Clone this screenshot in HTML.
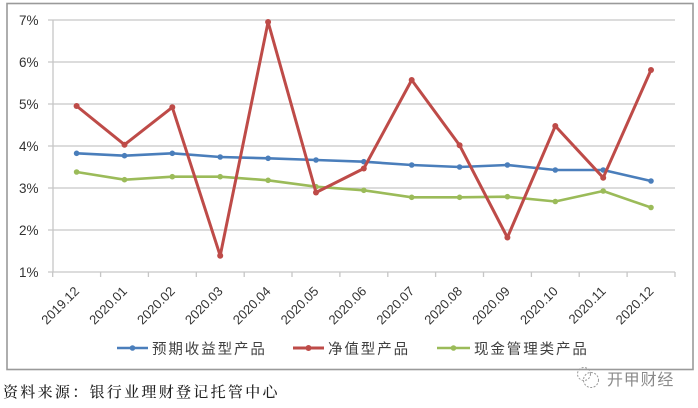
<!DOCTYPE html>
<html><head><meta charset="utf-8"><style>
html,body{margin:0;padding:0;background:#fff;}
svg{display:block;}
</style></head><body>
<svg width="698" height="408" viewBox="0 0 698 408" xmlns="http://www.w3.org/2000/svg">
<rect x="0" y="0" width="698" height="408" fill="#fff"/>
<rect x="7" y="3.5" width="686" height="366" fill="#fff" stroke="#9a9a9a" stroke-width="1.6"/>
<g stroke="#c6c6c6" stroke-width="1.3">
<line x1="48" y1="20" x2="675" y2="20"/>
<line x1="48" y1="62" x2="675" y2="62"/>
<line x1="48" y1="104" x2="675" y2="104"/>
<line x1="48" y1="146" x2="675" y2="146"/>
<line x1="48" y1="188" x2="675" y2="188"/>
<line x1="48" y1="230" x2="675" y2="230"/>
<line x1="48" y1="272" x2="675" y2="272"/>
<line x1="53" y1="20" x2="53" y2="272"/>
<line x1="52.7" y1="272" x2="52.7" y2="277"/>
<line x1="100.6" y1="272" x2="100.6" y2="277"/>
<line x1="148.4" y1="272" x2="148.4" y2="277"/>
<line x1="196.3" y1="272" x2="196.3" y2="277"/>
<line x1="244.2" y1="272" x2="244.2" y2="277"/>
<line x1="292" y1="272" x2="292" y2="277"/>
<line x1="339.9" y1="272" x2="339.9" y2="277"/>
<line x1="387.8" y1="272" x2="387.8" y2="277"/>
<line x1="435.6" y1="272" x2="435.6" y2="277"/>
<line x1="483.5" y1="272" x2="483.5" y2="277"/>
<line x1="531.4" y1="272" x2="531.4" y2="277"/>
<line x1="579.2" y1="272" x2="579.2" y2="277"/>
<line x1="627.1" y1="272" x2="627.1" y2="277"/>
<line x1="675" y1="272" x2="675" y2="277"/>
</g>
<g font-family="Liberation Sans, sans-serif" font-size="13.5" fill="#333" text-anchor="end">
<text x="38.5" y="25">7%</text>
<text x="38.5" y="67">6%</text>
<text x="38.5" y="109">5%</text>
<text x="38.5" y="151">4%</text>
<text x="38.5" y="193">3%</text>
<text x="38.5" y="235">2%</text>
<text x="38.5" y="277">1%</text>
</g>
<g font-family="Liberation Sans, sans-serif" font-size="13" fill="#333" text-anchor="end">
<text transform="translate(80,292) rotate(-45)">2019.12</text>
<text transform="translate(127.9,292) rotate(-45)">2020.01</text>
<text transform="translate(175.7,292) rotate(-45)">2020.02</text>
<text transform="translate(223.6,292) rotate(-45)">2020.03</text>
<text transform="translate(271.5,292) rotate(-45)">2020.04</text>
<text transform="translate(319.4,292) rotate(-45)">2020.05</text>
<text transform="translate(367.2,292) rotate(-45)">2020.06</text>
<text transform="translate(415.1,292) rotate(-45)">2020.07</text>
<text transform="translate(463,292) rotate(-45)">2020.08</text>
<text transform="translate(510.8,292) rotate(-45)">2020.09</text>
<text transform="translate(558.7,292) rotate(-45)">2020.10</text>
<text transform="translate(606.6,292) rotate(-45)">2020.11</text>
<text transform="translate(654.4,292) rotate(-45)">2020.12</text>
</g>
<!-- blue -->
<g stroke="#4a7ebb" fill="#4a7ebb">
<polyline fill="none" stroke-width="2.6" stroke-linejoin="round" points="76.6,153.3 124.5,155.7 172.3,153.3 220.2,157 268.1,158.3 316,160 363.8,161.7 411.7,165 459.6,167 507.4,165 555.3,170 603.2,170 651,181"/>
<g stroke="none">
<circle cx="76.6" cy="153.3" r="2.8"/><circle cx="124.5" cy="155.7" r="2.8"/><circle cx="172.3" cy="153.3" r="2.8"/><circle cx="220.2" cy="157" r="2.8"/><circle cx="268.1" cy="158.3" r="2.8"/><circle cx="316" cy="160" r="2.8"/><circle cx="363.8" cy="161.7" r="2.8"/><circle cx="411.7" cy="165" r="2.8"/><circle cx="459.6" cy="167" r="2.8"/><circle cx="507.4" cy="165" r="2.8"/><circle cx="555.3" cy="170" r="2.8"/><circle cx="603.2" cy="170" r="2.8"/><circle cx="651" cy="181" r="2.8"/>
</g></g>
<!-- green -->
<g stroke="#9bbb59" fill="#9bbb59">
<polyline fill="none" stroke-width="2.6" stroke-linejoin="round" points="76.6,172 124.5,179.7 172.3,176.7 220.2,176.7 268.1,180.3 316,186.7 363.8,190.3 411.7,197.3 459.6,197.3 507.4,196.7 555.3,201.5 603.2,191 651,207.5"/>
<g stroke="none">
<circle cx="76.6" cy="172" r="2.8"/><circle cx="124.5" cy="179.7" r="2.8"/><circle cx="172.3" cy="176.7" r="2.8"/><circle cx="220.2" cy="176.7" r="2.8"/><circle cx="268.1" cy="180.3" r="2.8"/><circle cx="316" cy="186.7" r="2.8"/><circle cx="363.8" cy="190.3" r="2.8"/><circle cx="411.7" cy="197.3" r="2.8"/><circle cx="459.6" cy="197.3" r="2.8"/><circle cx="507.4" cy="196.7" r="2.8"/><circle cx="555.3" cy="201.5" r="2.8"/><circle cx="603.2" cy="191" r="2.8"/><circle cx="651" cy="207.5" r="2.8"/>
</g></g>
<!-- red -->
<g stroke="#be4b48" fill="#be4b48">
<polyline fill="none" stroke-width="3" stroke-linejoin="round" points="76.6,106 124.5,144.7 172.3,107.3 220.2,255.7 268.1,22 316,192.5 363.8,168.5 411.7,80 459.6,145.3 507.4,237.5 555.3,126 603.2,177.7 651,70"/>
<g stroke="none">
<circle cx="76.6" cy="106" r="3"/><circle cx="124.5" cy="144.7" r="3"/><circle cx="172.3" cy="107.3" r="3"/><circle cx="220.2" cy="255.7" r="3"/><circle cx="268.1" cy="22" r="3"/><circle cx="316" cy="192.5" r="3"/><circle cx="363.8" cy="168.5" r="3"/><circle cx="411.7" cy="80" r="3"/><circle cx="459.6" cy="145.3" r="3"/><circle cx="507.4" cy="237.5" r="3"/><circle cx="555.3" cy="126" r="3"/><circle cx="603.2" cy="177.7" r="3"/><circle cx="651" cy="70" r="3"/>
</g></g>
<!-- legend -->
<line x1="117" y1="348" x2="148" y2="348" stroke="#4a7ebb" stroke-width="2.6"/>
<circle cx="132.5" cy="348" r="2.8" fill="#4a7ebb"/>
<line x1="293" y1="348" x2="324" y2="348" stroke="#be4b48" stroke-width="3"/>
<circle cx="308.5" cy="348" r="3" fill="#be4b48"/>
<line x1="437" y1="348" x2="470" y2="348" stroke="#9bbb59" stroke-width="2.6"/>
<circle cx="453.5" cy="348" r="2.8" fill="#9bbb59"/>
<g font-family="Liberation Sans, 'Noto Sans CJK SC', sans-serif" font-size="14.5" fill="#404040" letter-spacing="1.9">
<text x="152" y="354">预期收益型产品</text>
<text x="328" y="354">净值型产品</text>
<text x="474" y="354">现金管理类产品</text>
</g>
<text x="3" y="397" font-family="Liberation Serif, 'Noto Serif CJK SC', serif" font-size="15" fill="#222" letter-spacing="2.3" font-weight="500">资料来源：银行业理财登记托管中心</text>
<!-- watermark -->
<g fill="none" stroke="#999" stroke-width="1" stroke-dasharray="2 1.5">
<circle cx="584" cy="374" r="6.5"/>
<circle cx="591" cy="380" r="7.5"/>
</g>
<text x="607" y="385" font-family="Liberation Sans, 'Noto Sans CJK SC', sans-serif" font-size="16" fill="#8a8a8a" letter-spacing="0.8">开甲财经</text>
</svg>
</body></html>
